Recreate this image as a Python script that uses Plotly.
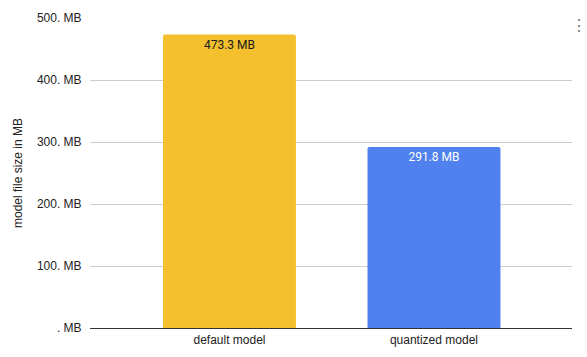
import plotly.graph_objects as go

categories = ["default model", "quantized model"]
sizes_mb = [473.3, 291.8]
bar_labels = ["473.3 MB", "291.8 MB"]
bar_colors = ["#F4C02D", "#4F81EF"]
label_colors = ["#1a1a1a", "#ffffff"]
tick_vals = [0, 100, 200, 300, 400, 500]
tick_text = [". MB", "100. MB", "200. MB", "300. MB", "400. MB", "500. MB"]

fig = go.Figure()
fig.add_trace(go.Bar(
    x=categories,
    y=sizes_mb,
    text=bar_labels,
    textposition="inside",
    insidetextanchor="end",
    textangle=0,
    textfont=dict(family="Roboto", size=12, color=label_colors),
    marker=dict(color=bar_colors, line=dict(width=0), cornerradius=2),
    width=0.65,
    hoverinfo="skip",
))

fig.update_layout(
    width=587, height=357,
    margin=dict(l=90, r=15, t=18, b=29),
    paper_bgcolor="white", plot_bgcolor="white",
    showlegend=False,
    font=dict(family="Liberation Sans, Arial", size=12, color="#222"),
    xaxis=dict(
        type="category",
        range=[-0.682, 1.675],
        automargin=False,
        showgrid=False,
        showline=True, linecolor="#333", linewidth=1,
        ticks="outside", ticklen=1, tickcolor="rgba(0,0,0,0)",
        tickfont=dict(size=12, color="#222"),
    ),
    yaxis=dict(
        range=[0, 500],
        automargin=False,
        tickvals=tick_vals, ticktext=tick_text,
        showgrid=True, gridcolor="#cccccc", gridwidth=1,
        zeroline=False, showline=False,
        ticks="outside", ticklen=5, tickcolor="rgba(0,0,0,0)",
        tickfont=dict(size=12, color="#222"),
        title=dict(text="model file size in MB", font=dict(size=12, color="#222"), standoff=11),
    ),
    annotations=[dict(
        text="⋮", x=1.0, y=1.0, xref="paper", yref="paper",
        xanchor="left", yanchor="bottom", showarrow=False,
        font=dict(size=16, color="#777"), xshift=-3, yshift=-18,
    )],
)

fig.write_html("out.html")
